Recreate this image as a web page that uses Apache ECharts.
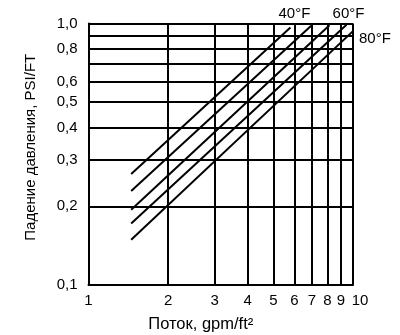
<!DOCTYPE html>
<html>
<head>
<meta charset="utf-8">
<script src="https://cdn.jsdelivr.net/npm/echarts@6/dist/echarts.min.js"></script>
<style>html,body{margin:0;padding:0;background:#fff;}#c{width:400px;height:335px;}</style>
</head>
<body>
<div id="c"></div>
<script>
// X grid / tick values (flow, gpm/ft²)
const xTicks = [1, 2, 3, 4, 5, 6, 7, 8, 9, 10];
// Y grid values and labelled values (pressure drop, PSI/FT)
const yGrid = [0.1, 0.2, 0.3, 0.4, 0.5, 0.6, 0.7, 0.8, 0.9, 1.0];
const yLabels = [0.1, 0.2, 0.3, 0.4, 0.5, 0.6, 0.8, 1.0];
// Five temperature curves (straight lines in log-log), start and end points
const curveX0 = [1.45, 1.45, 1.45, 1.45, 1.45];
const curveY0 = [0.266, 0.229, 0.194, 0.172, 0.149];
const curveX1 = [5.8, 6.95, 8.15, 9.45, 10];
const curveY1 = [0.965, 0.98, 0.985, 0.99, 0.935];
const curveNames = ['40°F', '50°F', '60°F', '70°F', '80°F'];
const curveLabelShown = [true, false, true, false, true];

const FONT = "'Liberation Sans', Arial, sans-serif";
const labelOffsets = [[4, -14], [0, 0], [19, -11], [0, 0], [6, 8]];
const labelAligns = ['center', 'left', 'center', 'left', 'left'];

const series = curveNames.map((name, i) => ({
  type: 'line',
  name: name,
  data: [[curveX0[i], curveY0[i]], [curveX1[i], curveY1[i]]],
  showSymbol: false,
  symbol: 'none',
  lineStyle: { color: '#000', width: 2 },
  clip: false,
  endLabel: {
    show: curveLabelShown[i],
    formatter: name,
    color: '#000',
    fontFamily: FONT,
    fontSize: 15,
    align: labelAligns[i],
    verticalAlign: 'middle',
    distance: 0,
    offset: labelOffsets[i]
  }
}));

const chart = echarts.init(document.getElementById('c'), null, { renderer: 'canvas' });
chart.setOption({
  animation: false,
  backgroundColor: '#fff',
  grid: { left: 88.5, right: 47, top: 23.5, bottom: 50, containLabel: false, outerBoundsMode: 'none' },
  xAxis: {
    type: 'log',
    logBase: 10,
    min: 1,
    max: 10,
    name: 'Поток, gpm/ft²',
    nameLocation: 'middle',
    nameGap: 31,
    nameTextStyle: { color: '#000', fontFamily: FONT, fontSize: 16.5, padding: [0, 40, 0, 0] },
    axisLine: { show: true, lineStyle: { color: '#000', width: 2 } },
    axisTick: { show: false, customValues: xTicks },
    axisLabel: {
      customValues: xTicks,
      showMinLabel: true,
      showMaxLabel: true,
      hideOverlap: false,
      color: '#000', fontFamily: FONT, fontSize: 15, margin: 8,
      formatter: v => {
        const n = Math.round(v);
        return n === 10 ? '{last|' + n + '}' : String(n);
      },
      rich: {
        last: { color: '#000', fontFamily: FONT, fontSize: 15, padding: [0, 0, 0, 14] }
      }
    },
    splitLine: { show: true, lineStyle: { color: '#000', width: 2 } },
    minorSplitLine: { show: false }
  },
  yAxis: {
    type: 'log',
    logBase: 10,
    min: 0.1,
    max: 1.0,
    name: 'Падение давления, PSI/FT',
    nameLocation: 'middle',
    nameGap: 50,
    nameRotate: 90,
    nameTextStyle: { color: '#000', fontFamily: FONT, fontSize: 15, padding: [0, 0, 0, 14] },
    axisLine: { show: true, lineStyle: { color: '#000', width: 2 } },
    axisTick: { show: false, customValues: yGrid },
    axisLabel: {
      customValues: yLabels,
      showMinLabel: true,
      showMaxLabel: true,
      hideOverlap: false,
      color: '#000', fontFamily: FONT, fontSize: 15, margin: 11,
      formatter: v => (Math.round(v * 10) / 10).toFixed(1).replace('.', ',')
    },
    splitLine: { show: true, lineStyle: { color: '#000', width: 2 } }
  },
  series: series
});
</script>
</body>
</html>
